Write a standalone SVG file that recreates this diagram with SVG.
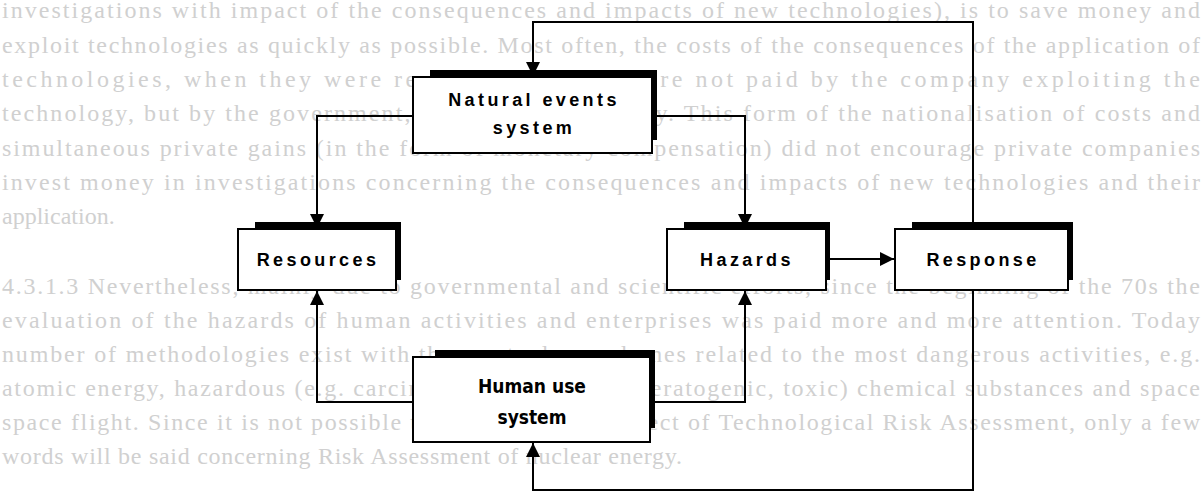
<svg xmlns="http://www.w3.org/2000/svg" width="1203" height="499" viewBox="0 0 1203 499">
<defs>
<marker id="ah" viewBox="0 0 10 12" refX="12" refY="6" markerWidth="12" markerHeight="14" markerUnits="userSpaceOnUse" orient="auto">
<path d="M0,0 L12,6 L0,12 Z" fill="#000"/>
</marker>
<style>
.bg{font-family:"Liberation Serif","Times New Roman",serif;font-size:24px;fill:#d0d0d0}
.box{fill:#fff;stroke:#000;stroke-width:2}
.sh{fill:#000}
.lbl{font-family:"Liberation Sans",Arial,sans-serif;font-size:18px;font-weight:bold;letter-spacing:3.4px;fill:#000;text-anchor:middle}
.lbln{font-family:"Liberation Sans Narrow","DejaVu Sans Condensed","Liberation Sans",sans-serif;font-size:19px;font-weight:bold;fill:#000;text-anchor:middle}
.con{fill:none;stroke:#000;stroke-width:2}
</style>
</defs>
<rect width="1203" height="499" fill="#fff"/>
<g id="background-text">
<text class="bg" x="2" y="18" textLength="1198" lengthAdjust="spacing">investigations with impact of the consequences and impacts of new technologies), is to save money and</text>
<text class="bg" x="2" y="53" textLength="1198" lengthAdjust="spacing">exploit technologies as quickly as possible. Most often, the costs of the consequences of the application of</text>
<text class="bg" x="2" y="87" textLength="1198" lengthAdjust="spacing">technologies, when they were realised later on, were not paid by the company exploiting the</text>
<text class="bg" x="2" y="121" textLength="1198" lengthAdjust="spacing">technology, but by the government, i.e. the whole society. This form of the nationalisation of costs and</text>
<text class="bg" x="2" y="156" textLength="1198" lengthAdjust="spacing">simultaneous private gains (in the form of monetary compensation) did not encourage private companies</text>
<text class="bg" x="2" y="190" textLength="1198" lengthAdjust="spacing">invest money in investigations concerning the consequences and impacts of new technologies and their</text>
<text class="bg" x="2" y="224">application.</text>
<text class="bg" x="2" y="294" textLength="1198" lengthAdjust="spacing">4.3.1.3 Nevertheless, mainly due to governmental and scientific efforts, since the beginning of the 70s the</text>
<text class="bg" x="2" y="328" textLength="1198" lengthAdjust="spacing">evaluation of the hazards of human activities and enterprises was paid more and more attention. Today</text>
<text class="bg" x="2" y="362" textLength="1198" lengthAdjust="spacing">number of methodologies exist with the most advanced ones related to the most dangerous activities, e.g.</text>
<text class="bg" x="2" y="396" textLength="1198" lengthAdjust="spacing">atomic energy, hazardous (e.g. carcinogenic, mutagenic, teratogenic, toxic) chemical substances and space</text>
<text class="bg" x="2" y="430" textLength="1198" lengthAdjust="spacing">space flight. Since it is not possible to consider every aspect of Technological Risk Assessment, only a few</text>
<text class="bg" x="2" y="464" textLength="680" lengthAdjust="spacing">words will be said concerning Risk Assessment of nuclear energy.</text>
</g>
<g id="connectors">
<path class="con" d="M973,229 V22 H533 V76" marker-end="url(#ah)"/>
<path class="con" d="M413,116 H317 V228" marker-end="url(#ah)"/>
<path class="con" d="M652,116 H745 V228" marker-end="url(#ah)"/>
<path class="con" d="M826,259 H894" marker-end="url(#ah)"/>
<path class="con" d="M973,291 V490 H533 V443" marker-end="url(#ah)"/>
<path class="con" d="M413,402 H317 V291" marker-end="url(#ah)"/>
<path class="con" d="M650,402 H745 V291" marker-end="url(#ah)"/>
</g>
<g id="natural-events-system">
<rect class="sh" x="430" y="70" width="227" height="70"/>
<rect class="box" x="413" y="77" width="239" height="76"/>
<text class="lbl" x="534" y="106">Natural events</text>
<text class="lbl" x="534" y="134">system</text>
</g>
<g id="resources">
<rect class="sh" x="255" y="222" width="146" height="58"/>
<rect class="box" x="238" y="229" width="158" height="61"/>
<text class="lbl" x="318" y="266">Resources</text>
</g>
<g id="hazards">
<rect class="sh" x="684" y="222" width="146" height="58"/>
<rect class="box" x="667" y="229" width="159" height="61"/>
<text class="lbl" x="747" y="266">Hazards</text>
</g>
<g id="response">
<rect class="sh" x="912" y="222" width="161" height="58"/>
<rect class="box" x="895" y="229" width="173" height="61"/>
<text class="lbl" x="983" y="266">Response</text>
</g>
<g id="human-use-system">
<rect class="sh" x="435" y="350" width="220" height="78"/>
<rect class="box" x="413" y="357" width="237" height="85"/>
<text class="lbln" x="532" y="393">Human use</text>
<text class="lbln" x="532" y="424">system</text>
</g>
</svg>
